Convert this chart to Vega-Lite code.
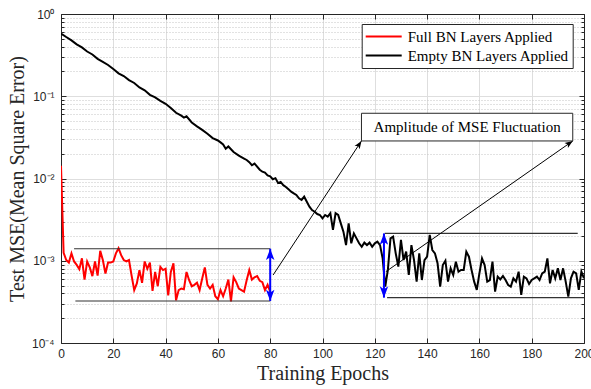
{
  "$schema": "https://vega.github.io/schema/vega-lite/v6.json",
  "width": 523,
  "height": 329,
  "autosize": {"type": "none"},
  "padding": {"left": 61, "top": 14, "right": 7, "bottom": 46},
  "background": "white",
  "config": {"view": {"stroke": null}},
  "datasets": {
    "mse": [
      {"epoch":0,"mse":0.0143,"series":"Full BN Layers Applied"},
      {"epoch":1,"mse":0.00125,"series":"Full BN Layers Applied"},
      {"epoch":2,"mse":0.00102,"series":"Full BN Layers Applied"},
      {"epoch":3,"mse":0.00095,"series":"Full BN Layers Applied"},
      {"epoch":4,"mse":0.00123,"series":"Full BN Layers Applied"},
      {"epoch":5,"mse":0.00098,"series":"Full BN Layers Applied"},
      {"epoch":6,"mse":0.00089,"series":"Full BN Layers Applied"},
      {"epoch":7,"mse":0.00079,"series":"Full BN Layers Applied"},
      {"epoch":8,"mse":0.00107,"series":"Full BN Layers Applied"},
      {"epoch":9,"mse":0.00059,"series":"Full BN Layers Applied"},
      {"epoch":10,"mse":0.00098,"series":"Full BN Layers Applied"},
      {"epoch":11,"mse":0.00083,"series":"Full BN Layers Applied"},
      {"epoch":12,"mse":0.00065,"series":"Full BN Layers Applied"},
      {"epoch":13,"mse":0.00098,"series":"Full BN Layers Applied"},
      {"epoch":14,"mse":0.00066,"series":"Full BN Layers Applied"},
      {"epoch":15,"mse":0.00132,"series":"Full BN Layers Applied"},
      {"epoch":16,"mse":0.00102,"series":"Full BN Layers Applied"},
      {"epoch":17,"mse":0.00070,"series":"Full BN Layers Applied"},
      {"epoch":18,"mse":0.00095,"series":"Full BN Layers Applied"},
      {"epoch":19,"mse":0.00095,"series":"Full BN Layers Applied"},
      {"epoch":20,"mse":0.00098,"series":"Full BN Layers Applied"},
      {"epoch":21,"mse":0.00123,"series":"Full BN Layers Applied"},
      {"epoch":22,"mse":0.00142,"series":"Full BN Layers Applied"},
      {"epoch":23,"mse":0.00117,"series":"Full BN Layers Applied"},
      {"epoch":24,"mse":0.00102,"series":"Full BN Layers Applied"},
      {"epoch":25,"mse":0.00098,"series":"Full BN Layers Applied"},
      {"epoch":26,"mse":0.00102,"series":"Full BN Layers Applied"},
      {"epoch":27,"mse":0.00066,"series":"Full BN Layers Applied"},
      {"epoch":28,"mse":0.00044,"series":"Full BN Layers Applied"},
      {"epoch":29,"mse":0.00053,"series":"Full BN Layers Applied"},
      {"epoch":30,"mse":0.00077,"series":"Full BN Layers Applied"},
      {"epoch":31,"mse":0.00054,"series":"Full BN Layers Applied"},
      {"epoch":32,"mse":0.00098,"series":"Full BN Layers Applied"},
      {"epoch":33,"mse":0.00080,"series":"Full BN Layers Applied"},
      {"epoch":34,"mse":0.00095,"series":"Full BN Layers Applied"},
      {"epoch":35,"mse":0.00043,"series":"Full BN Layers Applied"},
      {"epoch":36,"mse":0.00073,"series":"Full BN Layers Applied"},
      {"epoch":37,"mse":0.00049,"series":"Full BN Layers Applied"},
      {"epoch":38,"mse":0.00084,"series":"Full BN Layers Applied"},
      {"epoch":39,"mse":0.00077,"series":"Full BN Layers Applied"},
      {"epoch":40,"mse":0.00080,"series":"Full BN Layers Applied"},
      {"epoch":41,"mse":0.00038,"series":"Full BN Layers Applied"},
      {"epoch":42,"mse":0.00073,"series":"Full BN Layers Applied"},
      {"epoch":43,"mse":0.00093,"series":"Full BN Layers Applied"},
      {"epoch":44,"mse":0.00033,"series":"Full BN Layers Applied"},
      {"epoch":45,"mse":0.00044,"series":"Full BN Layers Applied"},
      {"epoch":46,"mse":0.00046,"series":"Full BN Layers Applied"},
      {"epoch":47,"mse":0.00045,"series":"Full BN Layers Applied"},
      {"epoch":48,"mse":0.00073,"series":"Full BN Layers Applied"},
      {"epoch":49,"mse":0.00058,"series":"Full BN Layers Applied"},
      {"epoch":50,"mse":0.00049,"series":"Full BN Layers Applied"},
      {"epoch":51,"mse":0.00051,"series":"Full BN Layers Applied"},
      {"epoch":52,"mse":0.00054,"series":"Full BN Layers Applied"},
      {"epoch":53,"mse":0.00044,"series":"Full BN Layers Applied"},
      {"epoch":54,"mse":0.00061,"series":"Full BN Layers Applied"},
      {"epoch":55,"mse":0.00083,"series":"Full BN Layers Applied"},
      {"epoch":56,"mse":0.00051,"series":"Full BN Layers Applied"},
      {"epoch":57,"mse":0.00046,"series":"Full BN Layers Applied"},
      {"epoch":58,"mse":0.00051,"series":"Full BN Layers Applied"},
      {"epoch":59,"mse":0.00037,"series":"Full BN Layers Applied"},
      {"epoch":60,"mse":0.00034,"series":"Full BN Layers Applied"},
      {"epoch":61,"mse":0.00044,"series":"Full BN Layers Applied"},
      {"epoch":62,"mse":0.00037,"series":"Full BN Layers Applied"},
      {"epoch":63,"mse":0.00046,"series":"Full BN Layers Applied"},
      {"epoch":64,"mse":0.00059,"series":"Full BN Layers Applied"},
      {"epoch":65,"mse":0.00032,"series":"Full BN Layers Applied"},
      {"epoch":66,"mse":0.00063,"series":"Full BN Layers Applied"},
      {"epoch":67,"mse":0.00055,"series":"Full BN Layers Applied"},
      {"epoch":68,"mse":0.00046,"series":"Full BN Layers Applied"},
      {"epoch":69,"mse":0.00044,"series":"Full BN Layers Applied"},
      {"epoch":70,"mse":0.00042,"series":"Full BN Layers Applied"},
      {"epoch":71,"mse":0.00058,"series":"Full BN Layers Applied"},
      {"epoch":72,"mse":0.00077,"series":"Full BN Layers Applied"},
      {"epoch":73,"mse":0.00059,"series":"Full BN Layers Applied"},
      {"epoch":74,"mse":0.00063,"series":"Full BN Layers Applied"},
      {"epoch":75,"mse":0.00065,"series":"Full BN Layers Applied"},
      {"epoch":76,"mse":0.00057,"series":"Full BN Layers Applied"},
      {"epoch":77,"mse":0.00055,"series":"Full BN Layers Applied"},
      {"epoch":78,"mse":0.00044,"series":"Full BN Layers Applied"},
      {"epoch":79,"mse":0.00051,"series":"Full BN Layers Applied"},
      {"epoch":80,"mse":0.00042,"series":"Full BN Layers Applied"},
      {"epoch":0,"mse":0.58,"series":"Empty BN Layers Applied"},
      {"epoch":2,"mse":0.525,"series":"Empty BN Layers Applied"},
      {"epoch":4,"mse":0.478,"series":"Empty BN Layers Applied"},
      {"epoch":6,"mse":0.428,"series":"Empty BN Layers Applied"},
      {"epoch":8,"mse":0.392,"series":"Empty BN Layers Applied"},
      {"epoch":10,"mse":0.350,"series":"Empty BN Layers Applied"},
      {"epoch":12,"mse":0.322,"series":"Empty BN Layers Applied"},
      {"epoch":14,"mse":0.285,"series":"Empty BN Layers Applied"},
      {"epoch":16,"mse":0.262,"series":"Empty BN Layers Applied"},
      {"epoch":18,"mse":0.240,"series":"Empty BN Layers Applied"},
      {"epoch":20,"mse":0.214,"series":"Empty BN Layers Applied"},
      {"epoch":22,"mse":0.190,"series":"Empty BN Layers Applied"},
      {"epoch":24,"mse":0.176,"series":"Empty BN Layers Applied"},
      {"epoch":26,"mse":0.157,"series":"Empty BN Layers Applied"},
      {"epoch":28,"mse":0.145,"series":"Empty BN Layers Applied"},
      {"epoch":30,"mse":0.128,"series":"Empty BN Layers Applied"},
      {"epoch":32,"mse":0.118,"series":"Empty BN Layers Applied"},
      {"epoch":34,"mse":0.104,"series":"Empty BN Layers Applied"},
      {"epoch":36,"mse":0.097,"series":"Empty BN Layers Applied"},
      {"epoch":38,"mse":0.088,"series":"Empty BN Layers Applied"},
      {"epoch":40,"mse":0.081,"series":"Empty BN Layers Applied"},
      {"epoch":42,"mse":0.072,"series":"Empty BN Layers Applied"},
      {"epoch":44,"mse":0.063,"series":"Empty BN Layers Applied"},
      {"epoch":46,"mse":0.058,"series":"Empty BN Layers Applied"},
      {"epoch":47,"mse":0.055,"series":"Empty BN Layers Applied"},
      {"epoch":48,"mse":0.057,"series":"Empty BN Layers Applied"},
      {"epoch":50,"mse":0.048,"series":"Empty BN Layers Applied"},
      {"epoch":52,"mse":0.043,"series":"Empty BN Layers Applied"},
      {"epoch":54,"mse":0.039,"series":"Empty BN Layers Applied"},
      {"epoch":56,"mse":0.035,"series":"Empty BN Layers Applied"},
      {"epoch":58,"mse":0.031,"series":"Empty BN Layers Applied"},
      {"epoch":60,"mse":0.029,"series":"Empty BN Layers Applied"},
      {"epoch":61,"mse":0.0275,"series":"Empty BN Layers Applied"},
      {"epoch":62,"mse":0.026,"series":"Empty BN Layers Applied"},
      {"epoch":63,"mse":0.023,"series":"Empty BN Layers Applied"},
      {"epoch":64,"mse":0.0245,"series":"Empty BN Layers Applied"},
      {"epoch":66,"mse":0.021,"series":"Empty BN Layers Applied"},
      {"epoch":68,"mse":0.019,"series":"Empty BN Layers Applied"},
      {"epoch":70,"mse":0.0175,"series":"Empty BN Layers Applied"},
      {"epoch":71,"mse":0.0168,"series":"Empty BN Layers Applied"},
      {"epoch":72,"mse":0.0158,"series":"Empty BN Layers Applied"},
      {"epoch":73,"mse":0.0145,"series":"Empty BN Layers Applied"},
      {"epoch":74,"mse":0.0152,"series":"Empty BN Layers Applied"},
      {"epoch":76,"mse":0.0128,"series":"Empty BN Layers Applied"},
      {"epoch":77,"mse":0.0121,"series":"Empty BN Layers Applied"},
      {"epoch":78,"mse":0.0118,"series":"Empty BN Layers Applied"},
      {"epoch":79,"mse":0.0109,"series":"Empty BN Layers Applied"},
      {"epoch":80,"mse":0.0106,"series":"Empty BN Layers Applied"},
      {"epoch":81,"mse":0.0098,"series":"Empty BN Layers Applied"},
      {"epoch":82,"mse":0.0101,"series":"Empty BN Layers Applied"},
      {"epoch":83,"mse":0.0088,"series":"Empty BN Layers Applied"},
      {"epoch":84,"mse":0.0091,"series":"Empty BN Layers Applied"},
      {"epoch":85,"mse":0.0083,"series":"Empty BN Layers Applied"},
      {"epoch":86,"mse":0.0079,"series":"Empty BN Layers Applied"},
      {"epoch":87,"mse":0.0074,"series":"Empty BN Layers Applied"},
      {"epoch":88,"mse":0.00692,"series":"Empty BN Layers Applied"},
      {"epoch":89,"mse":0.00661,"series":"Empty BN Layers Applied"},
      {"epoch":90,"mse":0.00630,"series":"Empty BN Layers Applied"},
      {"epoch":91,"mse":0.00574,"series":"Empty BN Layers Applied"},
      {"epoch":92,"mse":0.00548,"series":"Empty BN Layers Applied"},
      {"epoch":93,"mse":0.00601,"series":"Empty BN Layers Applied"},
      {"epoch":94,"mse":0.00522,"series":"Empty BN Layers Applied"},
      {"epoch":95,"mse":0.00455,"series":"Empty BN Layers Applied"},
      {"epoch":96,"mse":0.00414,"series":"Empty BN Layers Applied"},
      {"epoch":97,"mse":0.00395,"series":"Empty BN Layers Applied"},
      {"epoch":98,"mse":0.00370,"series":"Empty BN Layers Applied"},
      {"epoch":99,"mse":0.00360,"series":"Empty BN Layers Applied"},
      {"epoch":100,"mse":0.00328,"series":"Empty BN Layers Applied"},
      {"epoch":101,"mse":0.00360,"series":"Empty BN Layers Applied"},
      {"epoch":102,"mse":0.00344,"series":"Empty BN Layers Applied"},
      {"epoch":103,"mse":0.00378,"series":"Empty BN Layers Applied"},
      {"epoch":104,"mse":0.00237,"series":"Empty BN Layers Applied"},
      {"epoch":105,"mse":0.00378,"series":"Empty BN Layers Applied"},
      {"epoch":106,"mse":0.00360,"series":"Empty BN Layers Applied"},
      {"epoch":107,"mse":0.00285,"series":"Empty BN Layers Applied"},
      {"epoch":108,"mse":0.00226,"series":"Empty BN Layers Applied"},
      {"epoch":109,"mse":0.00155,"series":"Empty BN Layers Applied"},
      {"epoch":110,"mse":0.00285,"series":"Empty BN Layers Applied"},
      {"epoch":111,"mse":0.00163,"series":"Empty BN Layers Applied"},
      {"epoch":112,"mse":0.00215,"series":"Empty BN Layers Applied"},
      {"epoch":113,"mse":0.00187,"series":"Empty BN Layers Applied"},
      {"epoch":114,"mse":0.00163,"series":"Empty BN Layers Applied"},
      {"epoch":115,"mse":0.00148,"series":"Empty BN Layers Applied"},
      {"epoch":116,"mse":0.00166,"series":"Empty BN Layers Applied"},
      {"epoch":117,"mse":0.00155,"series":"Empty BN Layers Applied"},
      {"epoch":118,"mse":0.00166,"series":"Empty BN Layers Applied"},
      {"epoch":119,"mse":0.00148,"series":"Empty BN Layers Applied"},
      {"epoch":120,"mse":0.00163,"series":"Empty BN Layers Applied"},
      {"epoch":121,"mse":0.00171,"series":"Empty BN Layers Applied"},
      {"epoch":122,"mse":0.00155,"series":"Empty BN Layers Applied"},
      {"epoch":123,"mse":0.00107,"series":"Empty BN Layers Applied"},
      {"epoch":124,"mse":0.000484,"series":"Empty BN Layers Applied"},
      {"epoch":125,"mse":0.000773,"series":"Empty BN Layers Applied"},
      {"epoch":126,"mse":0.00187,"series":"Empty BN Layers Applied"},
      {"epoch":127,"mse":0.00196,"series":"Empty BN Layers Applied"},
      {"epoch":128,"mse":0.00123,"series":"Empty BN Layers Applied"},
      {"epoch":129,"mse":0.000847,"series":"Empty BN Layers Applied"},
      {"epoch":130,"mse":0.00179,"series":"Empty BN Layers Applied"},
      {"epoch":131,"mse":0.00102,"series":"Empty BN Layers Applied"},
      {"epoch":132,"mse":0.00129,"series":"Empty BN Layers Applied"},
      {"epoch":133,"mse":0.000671,"series":"Empty BN Layers Applied"},
      {"epoch":134,"mse":0.00155,"series":"Empty BN Layers Applied"},
      {"epoch":135,"mse":0.00102,"series":"Empty BN Layers Applied"},
      {"epoch":136,"mse":0.000557,"series":"Empty BN Layers Applied"},
      {"epoch":137,"mse":0.00123,"series":"Empty BN Layers Applied"},
      {"epoch":138,"mse":0.000583,"series":"Empty BN Layers Applied"},
      {"epoch":139,"mse":0.00102,"series":"Empty BN Layers Applied"},
      {"epoch":140,"mse":0.00112,"series":"Empty BN Layers Applied"},
      {"epoch":141,"mse":0.00206,"series":"Empty BN Layers Applied"},
      {"epoch":142,"mse":0.00135,"series":"Empty BN Layers Applied"},
      {"epoch":143,"mse":0.00123,"series":"Empty BN Layers Applied"},
      {"epoch":144,"mse":0.000931,"series":"Empty BN Layers Applied"},
      {"epoch":145,"mse":0.000484,"series":"Empty BN Layers Applied"},
      {"epoch":146,"mse":0.000887,"series":"Empty BN Layers Applied"},
      {"epoch":147,"mse":0.00100,"series":"Empty BN Layers Applied"},
      {"epoch":148,"mse":0.000557,"series":"Empty BN Layers Applied"},
      {"epoch":149,"mse":0.000809,"series":"Empty BN Layers Applied"},
      {"epoch":150,"mse":0.000671,"series":"Empty BN Layers Applied"},
      {"epoch":151,"mse":0.000975,"series":"Empty BN Layers Applied"},
      {"epoch":152,"mse":0.000736,"series":"Empty BN Layers Applied"},
      {"epoch":153,"mse":0.000773,"series":"Empty BN Layers Applied"},
      {"epoch":154,"mse":0.000773,"series":"Empty BN Layers Applied"},
      {"epoch":155,"mse":0.00129,"series":"Empty BN Layers Applied"},
      {"epoch":156,"mse":0.00112,"series":"Empty BN Layers Applied"},
      {"epoch":157,"mse":0.000773,"series":"Empty BN Layers Applied"},
      {"epoch":158,"mse":0.000557,"series":"Empty BN Layers Applied"},
      {"epoch":159,"mse":0.000442,"series":"Empty BN Layers Applied"},
      {"epoch":160,"mse":0.000703,"series":"Empty BN Layers Applied"},
      {"epoch":161,"mse":0.00107,"series":"Empty BN Layers Applied"},
      {"epoch":162,"mse":0.000887,"series":"Empty BN Layers Applied"},
      {"epoch":163,"mse":0.000557,"series":"Empty BN Layers Applied"},
      {"epoch":164,"mse":0.000583,"series":"Empty BN Layers Applied"},
      {"epoch":165,"mse":0.000975,"series":"Empty BN Layers Applied"},
      {"epoch":166,"mse":0.000421,"series":"Empty BN Layers Applied"},
      {"epoch":167,"mse":0.000641,"series":"Empty BN Layers Applied"},
      {"epoch":168,"mse":0.000594,"series":"Empty BN Layers Applied"},
      {"epoch":169,"mse":0.000653,"series":"Empty BN Layers Applied"},
      {"epoch":170,"mse":0.000583,"series":"Empty BN Layers Applied"},
      {"epoch":171,"mse":0.000507,"series":"Empty BN Layers Applied"},
      {"epoch":172,"mse":0.000484,"series":"Empty BN Layers Applied"},
      {"epoch":173,"mse":0.000611,"series":"Empty BN Layers Applied"},
      {"epoch":174,"mse":0.000557,"series":"Empty BN Layers Applied"},
      {"epoch":175,"mse":0.000736,"series":"Empty BN Layers Applied"},
      {"epoch":176,"mse":0.000384,"series":"Empty BN Layers Applied"},
      {"epoch":177,"mse":0.000641,"series":"Empty BN Layers Applied"},
      {"epoch":178,"mse":0.000611,"series":"Empty BN Layers Applied"},
      {"epoch":179,"mse":0.000522,"series":"Empty BN Layers Applied"},
      {"epoch":180,"mse":0.000583,"series":"Empty BN Layers Applied"},
      {"epoch":181,"mse":0.000611,"series":"Empty BN Layers Applied"},
      {"epoch":182,"mse":0.000641,"series":"Empty BN Layers Applied"},
      {"epoch":183,"mse":0.000583,"series":"Empty BN Layers Applied"},
      {"epoch":184,"mse":0.000703,"series":"Empty BN Layers Applied"},
      {"epoch":185,"mse":0.000736,"series":"Empty BN Layers Applied"},
      {"epoch":186,"mse":0.00107,"series":"Empty BN Layers Applied"},
      {"epoch":187,"mse":0.000532,"series":"Empty BN Layers Applied"},
      {"epoch":188,"mse":0.000773,"series":"Empty BN Layers Applied"},
      {"epoch":189,"mse":0.000611,"series":"Empty BN Layers Applied"},
      {"epoch":190,"mse":0.000809,"series":"Empty BN Layers Applied"},
      {"epoch":191,"mse":0.000583,"series":"Empty BN Layers Applied"},
      {"epoch":192,"mse":0.000809,"series":"Empty BN Layers Applied"},
      {"epoch":193,"mse":0.000557,"series":"Empty BN Layers Applied"},
      {"epoch":194,"mse":0.000366,"series":"Empty BN Layers Applied"},
      {"epoch":195,"mse":0.000611,"series":"Empty BN Layers Applied"},
      {"epoch":196,"mse":0.000736,"series":"Empty BN Layers Applied"},
      {"epoch":197,"mse":0.000703,"series":"Empty BN Layers Applied"},
      {"epoch":198,"mse":0.000442,"series":"Empty BN Layers Applied"},
      {"epoch":199,"mse":0.000736,"series":"Empty BN Layers Applied"},
      {"epoch":200,"mse":0.000611,"series":"Empty BN Layers Applied"}
    ],
    "levels": [
      {"epoch":5,"epoch2":80,"mse":0.00140},
      {"epoch":5.5,"epoch2":80,"mse":0.000324},
      {"epoch":123.8,"epoch2":197.6,"mse":0.00215},
      {"epoch":124.7,"epoch2":200,"mse":0.000356}
    ],
    "amps": [
      {"epoch":80,"mse":0.000324,"mse2":0.00140},
      {"epoch":123.5,"mse":0.000356,"mse2":0.00215}
    ],
    "links": [
      {"id":1,"epoch":81.1,"mse":0.00067,"epoch2":114.9,"mse2":0.0286},
      {"id":2,"epoch":124.2,"mse":0.000736,"epoch2":195.7,"mse2":0.0286}
    ],
    "box": [
      {"epoch":114.9,"epoch2":195.7,"mse":0.0286,"mse2":0.0621,"label":"Amplitude of MSE Fluctuation","cx":155.3,"cy":0.0423}
    ]
  },
  "resolve": {"axis": {"x": "independent", "y": "independent"}},
  "layer": [
    {
      "data": {"name": "mse"},
      "mark": {"type": "line", "strokeWidth": 2, "clip": true},
      "encoding": {
        "x": {"field": "epoch", "type": "quantitative",
          "scale": {"domain": [0, 200], "nice": false, "zero": false},
          "axis": {"orient": "bottom", "values": [0,20,40,60,80,100,120,140,160,180,200],
            "grid": true, "gridColor": "#dedede", "gridWidth": 1,
            "domainColor": "#262626", "domainWidth": 1, "tickColor": "#262626", "tickSize": -5, "tickWidth": 1,
            "labelFont": "Liberation Sans", "labelFontSize": 12, "labelColor": "#262626", "labelFlush": false, "labelPadding": 10,
            "title": "Training Epochs", "titleFont": "Liberation Serif", "titleFontSize": 20, "titleFontWeight": "normal", "titleColor": "#262626", "titlePadding": 4}},
        "y": {"field": "mse", "type": "quantitative",
          "scale": {"type": "log", "domain": [0.0001, 1], "nice": false},
          "axis": {"orient": "left",
            "values": [0.0001,0.0002,0.0003,0.0004,0.0005,0.0006,0.0007,0.0008,0.0009,0.001,0.002,0.003,0.004,0.005,0.006,0.007,0.008,0.009,0.01,0.02,0.03,0.04,0.05,0.06,0.07,0.08,0.09,0.1,0.2,0.3,0.4,0.5,0.6,0.7,0.8,0.9,1],
            "labelExpr": "abs(datum.value-1)<1e-9 ? '10⁰' : abs(datum.value-0.1)<1e-9 ? '10⁻¹' : abs(datum.value-0.01)<1e-10 ? '10⁻²' : abs(datum.value-0.001)<1e-11 ? '10⁻³' : abs(datum.value-0.0001)<1e-12 ? '10⁻⁴' : ''",
            "labelOverlap": false, "labelFlush": false,
            "grid": true,
            "gridColor": {"condition": {"test": "abs(log(datum.value)/LN10 - round(log(datum.value)/LN10)) > 0.01", "value": "#c4c4c4"}, "value": "#dedede"},
            "gridDash": {"condition": {"test": "abs(log(datum.value)/LN10 - round(log(datum.value)/LN10)) > 0.01", "value": [1, 2]}, "value": []},
            "tickSize": {"condition": {"test": "abs(log(datum.value)/LN10 - round(log(datum.value)/LN10)) > 0.01", "value": -3}, "value": -5},
            "domainColor": "#262626", "tickColor": "#262626",
            "labelFont": "Liberation Sans", "labelFontSize": 12, "labelColor": "#262626", "labelPadding": 12,
            "title": "Test MSE(Mean Square Error)", "titleFont": "Liberation Serif", "titleFontSize": 20, "titleFontWeight": "normal", "titleColor": "#262626", "titlePadding": 4}},
        "color": {"field": "series", "type": "nominal",
          "scale": {"domain": ["Full BN Layers Applied", "Empty BN Layers Applied"], "range": ["#ff0000", "#000000"]},
          "legend": {"orient": "none", "legendX": 300.7, "legendY": 10, "title": null,
            "symbolType": "stroke", "symbolSize": 1296, "symbolStrokeWidth": 2, "clipHeight": 19,
            "labelFont": "Liberation Serif", "labelFontSize": 15, "labelColor": "#000000", "labelOffset": 5, "labelLimit": 400,
            "fillColor": "white", "strokeColor": "#262626", "padding": 3, "rowPadding": 0}}
      }
    },
    {
      "data": {"name": "levels"},
      "mark": {"type": "rule", "color": "#333333", "strokeWidth": 1.2},
      "encoding": {
        "x": {"field": "epoch", "type": "quantitative", "scale": {"domain": [0, 200], "nice": false, "zero": false}, "axis": null},
        "x2": {"field": "epoch2"},
        "y": {"field": "mse", "type": "quantitative", "scale": {"type": "log", "domain": [0.0001, 1], "nice": false}, "axis": null}
      }
    },
    {
      "data": {"name": "amps"},
      "mark": {"type": "rule", "color": "#0000ff", "strokeWidth": 2},
      "encoding": {
        "x": {"field": "epoch", "type": "quantitative", "scale": {"domain": [0, 200], "nice": false, "zero": false}, "axis": null},
        "y": {"field": "mse", "type": "quantitative", "scale": {"type": "log", "domain": [0.0001, 1], "nice": false}, "axis": null},
        "y2": {"field": "mse2"}
      }
    },
    {
      "data": {"name": "amps"},
      "mark": {"type": "point", "shape": "M0,0L-0.6,1.6L0,1.2L0.6,1.6Z", "filled": true, "color": "#0000ff", "opacity": 1, "size": 200, "angle": 0, "strokeWidth": 0},
      "encoding": {
        "x": {"field": "epoch", "type": "quantitative", "scale": {"domain": [0, 200], "nice": false, "zero": false}, "axis": null},
        "y": {"field": "mse2", "type": "quantitative", "scale": {"type": "log", "domain": [0.0001, 1], "nice": false}, "axis": null}
      }
    },
    {
      "data": {"name": "amps"},
      "mark": {"type": "point", "shape": "M0,0L-0.6,1.6L0,1.2L0.6,1.6Z", "filled": true, "color": "#0000ff", "opacity": 1, "size": 200, "angle": 180, "strokeWidth": 0},
      "encoding": {
        "x": {"field": "epoch", "type": "quantitative", "scale": {"domain": [0, 200], "nice": false, "zero": false}, "axis": null},
        "y": {"field": "mse", "type": "quantitative", "scale": {"type": "log", "domain": [0.0001, 1], "nice": false}, "axis": null}
      }
    },
    {
      "data": {"name": "links"},
      "mark": {"type": "rule", "color": "#000000", "strokeWidth": 1},
      "encoding": {
        "x": {"field": "epoch", "type": "quantitative", "scale": {"domain": [0, 200], "nice": false, "zero": false}, "axis": null},
        "x2": {"field": "epoch2"},
        "y": {"field": "mse", "type": "quantitative", "scale": {"type": "log", "domain": [0.0001, 1], "nice": false}, "axis": null},
        "y2": {"field": "mse2"}
      }
    },
    {
      "data": {"name": "links"},
      "transform": [{"filter": "datum.id == 1"}],
      "mark": {"type": "point", "shape": "M0,0L-0.6,1.6L0,1.2L0.6,1.6Z", "filled": true, "color": "#000000", "opacity": 1, "size": 100, "angle": 33, "strokeWidth": 0},
      "encoding": {
        "x": {"field": "epoch2", "type": "quantitative", "scale": {"domain": [0, 200], "nice": false, "zero": false}, "axis": null},
        "y": {"field": "mse2", "type": "quantitative", "scale": {"type": "log", "domain": [0.0001, 1], "nice": false}, "axis": null}
      }
    },
    {
      "data": {"name": "links"},
      "transform": [{"filter": "datum.id == 2"}],
      "mark": {"type": "point", "shape": "M0,0L-0.6,1.6L0,1.2L0.6,1.6Z", "filled": true, "color": "#000000", "opacity": 1, "size": 100, "angle": 55, "strokeWidth": 0},
      "encoding": {
        "x": {"field": "epoch2", "type": "quantitative", "scale": {"domain": [0, 200], "nice": false, "zero": false}, "axis": null},
        "y": {"field": "mse2", "type": "quantitative", "scale": {"type": "log", "domain": [0.0001, 1], "nice": false}, "axis": null}
      }
    },
    {
      "data": {"name": "box"},
      "mark": {"type": "rect", "fill": "white", "stroke": "#262626", "strokeWidth": 1},
      "encoding": {
        "x": {"field": "epoch", "type": "quantitative", "scale": {"domain": [0, 200], "nice": false, "zero": false},
          "axis": {"orient": "top", "values": [0,20,40,60,80,100,120,140,160,180,200], "labels": false, "grid": false, "title": null,
            "domainColor": "#262626", "tickColor": "#262626", "tickSize": -5}},
        "x2": {"field": "epoch2"},
        "y": {"field": "mse", "type": "quantitative", "scale": {"type": "log", "domain": [0.0001, 1], "nice": false},
          "axis": {"orient": "right",
            "values": [0.0001,0.0002,0.0003,0.0004,0.0005,0.0006,0.0007,0.0008,0.0009,0.001,0.002,0.003,0.004,0.005,0.006,0.007,0.008,0.009,0.01,0.02,0.03,0.04,0.05,0.06,0.07,0.08,0.09,0.1,0.2,0.3,0.4,0.5,0.6,0.7,0.8,0.9,1],
            "labels": false, "grid": false, "title": null, "domainColor": "#262626", "tickColor": "#262626",
            "tickSize": {"condition": {"test": "abs(log(datum.value)/LN10 - round(log(datum.value)/LN10)) > 0.01", "value": -3}, "value": -5}}},
        "y2": {"field": "mse2"}
      }
    },
    {
      "data": {"name": "box"},
      "mark": {"type": "text", "font": "Liberation Serif", "fontSize": 15, "color": "#000000", "align": "center", "baseline": "middle"},
      "encoding": {
        "x": {"field": "cx", "type": "quantitative", "scale": {"domain": [0, 200], "nice": false, "zero": false}, "axis": null},
        "y": {"field": "cy", "type": "quantitative", "scale": {"type": "log", "domain": [0.0001, 1], "nice": false}, "axis": null},
        "text": {"field": "label"}
      }
    }
  ]
}
